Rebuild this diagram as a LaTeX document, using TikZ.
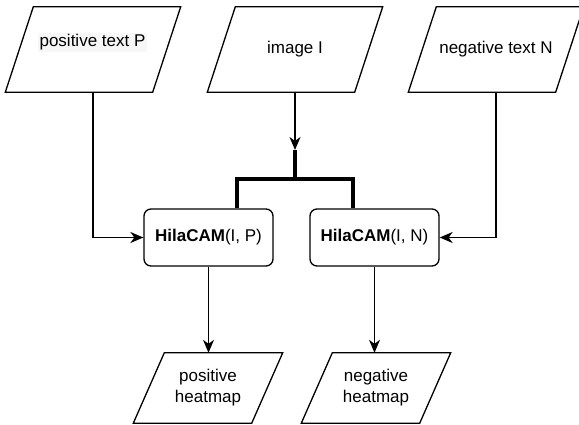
\documentclass[tikz,border=0pt]{standalone}
\usepackage{fontspec}
\setmainfont{Liberation Sans}
\usetikzlibrary{arrows.meta}
\begin{document}
\begin{tikzpicture}[x=1pt,y=-1pt,font=\fontsize{17}{21}\selectfont,
	inshape/.style={minimum width=147pt, minimum height=85pt, inner sep=0pt},
	outshape/.style={minimum width=118pt, minimum height=70pt, inner sep=0pt, align=center},
	outline/.style={draw, line width=1.3pt, line join=miter},
	cam/.style={draw, line width=1.3pt, rounded corners=7pt, minimum width=129pt, minimum height=57pt},
	arr/.style={line width=1.4pt, -{Stealth[length=13pt,width=11pt,inset=4pt]}},
	bus/.style={line width=3.3pt}]
	\useasboundingbox (0,0) rectangle (579,425);
	\node[inshape] (pos) at (93,49.5) {};
	\node[fill=black!3, inner sep=2pt] (posl) at (92.5,42.5) {positive text P};
	\node[inshape] (img) at (295,49.5) {image I};
	\node[inshape] (neg) at (496,49.5) {negative text N};
	\node[cam] (camp) at (208.5,237.5) {\textbf{HilaCAM}(I, P)};
	\node[cam] (camn) at (374.5,237.5) {\textbf{HilaCAM}(I, N)};
	\node[outshape] (hpos) at (208,388) {positive\\heatmap};
	\node[outshape] (hneg) at (376,388) {negative\\heatmap};
	% parallelogram outlines
	\foreach \n/\s in {pos/14, img/14, neg/14, hpos/15.5, hneg/15.5}
		\draw[outline] ([xshift=-\s pt]\n.south west) -- ([xshift=-\s pt]\n.south east) -- ([xshift=\s pt]\n.north east) -- ([xshift=\s pt]\n.north west) -- cycle;
	\coordinate (split) at (295,150);
	\coordinate (fork) at (295,179);
	\draw[arr] (img.south) -- (split);
	\draw[bus] (split) -- (fork);
	\draw[bus] ([xshift=28.5pt]camp.north) |- (fork) -| ([xshift=-21.5pt]camn.north);
	\draw[arr] (pos.south) |- (camp.west);
	\draw[arr] (neg.south) |- (camn.east);
	\draw[arr] (camp.south) -- (camp.south |- hpos.north);
	\draw[arr] (camn.south) -- (camn.south |- hneg.north);
\end{tikzpicture}
\end{document}
